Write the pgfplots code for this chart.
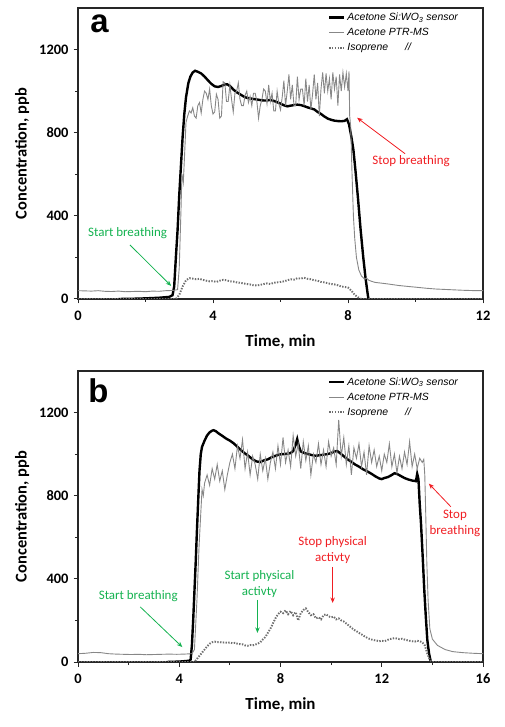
\documentclass[border=0pt]{standalone}
\usepackage{pgfplots}
\pgfplotsset{compat=1.18}
\usepackage{fontspec}
\setmainfont{Carlito}
\newfontfamily\arialfont{Liberation Sans}
\usetikzlibrary{arrows.meta}
\definecolor{agreen}{RGB}{20,178,80}
\definecolor{ared}{RGB}{240,30,35}
\definecolor{ptr}{RGB}{135,135,135}
\definecolor{iso}{RGB}{110,110,110}
\tikzset{
  annot/.style={font=\fontsize{13}{16}\selectfont, align=center},
  arr/.style={-{Stealth[length=5.5bp,width=4.5bp]}, line width=0.8bp},
}
\pgfplotsset{
  myaxis/.style={
    scale only axis, width=405bp, height=291bp,
    ymin=0, ymax=1400, ytick={0,400,800,1200},
    minor y tick num=1, minor x tick num=1,
    tick align=outside, xtick pos=left, ytick pos=left,
    major tick length=4.5bp, minor tick length=3bp,
    axis line style={line width=1.2bp, black!85},
    every tick/.style={line width=1bp, black!85},
    /pgf/number format/assume math mode=true,
    /pgf/number format/1000 sep={},
    ticklabel style={font=\bfseries\fontsize{14.5}{15}\selectfont},
    xticklabel style={yshift=-4bp},
    yticklabel style={xshift=-1.5bp},
    xlabel={Time, min}, ylabel={Concentration, ppb},
    xlabel style={font=\bfseries\fontsize{17}{18}\selectfont, at={(axis description cs:0.5,-0.148)}, anchor=center},
    ylabel style={font=\bfseries\fontsize{16.5}{18}\selectfont, at={(axis description cs:-0.138,0.5)}, anchor=center, rotate=0},
    legend style={draw=none, fill=none, inner sep=0pt, row sep=2.2bp,
      font=\arialfont\itshape\fontsize{10.5}{12}\selectfont,
      at={(axis description cs:0.617,0.99)}, anchor=north west},
    legend cell align=left,
    legend image code/.code={\draw[#1] (0bp,0bp) -- (15bp,0bp);},
    clip=true,
  },
  sensor/.style={black, line width=2.4bp},
  ptrms/.style={ptr, line width=0.9bp},
  isop/.style={iso, line width=1.9bp, dash pattern=on 1.4bp off 1.4bp},
}
\begin{document}
\begin{tikzpicture}
\path[use as bounding box] (0,0) rectangle (505bp,727bp);
% ---------------- panel a ----------------
\begin{axis}[myaxis, at={(78bp,428bp)}, anchor=south west,
  xmin=0, xmax=12, xtick={0,4,8,12}]
\addplot[sensor] coordinates {
(1.2,0) (1.6,1) (2.0,3) (2.4,6) (2.7,10) (2.8,18) (2.85,60) (2.9,200) (2.95,330) (3.0,500) (3.05,640) (3.1,780) (3.15,890) (3.2,970) (3.27,1039) (3.33,1070) (3.4,1090) (3.47,1098) (3.55,1093) (3.65,1085) (3.75,1070) (3.85,1052) (3.95,1035) (4.05,1023) (4.15,1020) (4.25,1025) (4.35,1032) (4.42,1033) (4.5,1025) (4.6,1008) (4.7,995) (4.8,985) (4.9,975) (5.0,968) (5.1,965) (5.2,962) (5.3,960) (5.4,957) (5.5,955) (5.6,955) (5.7,958) (5.8,953) (5.9,947) (6.0,940) (6.1,932) (6.2,927) (6.3,930) (6.4,933) (6.5,935) (6.6,933) (6.7,928) (6.8,922) (6.9,917) (7.0,912) (7.1,900) (7.2,890) (7.3,878) (7.4,868) (7.5,862) (7.6,858) (7.7,856) (7.8,855) (7.9,857) (7.97,865) (8.03,840) (8.1,780) (8.16,718) (8.22,620) (8.3,477) (8.37,340) (8.45,204) (8.52,100) (8.57,40) (8.6,5) (8.62,0)
};
\addlegendentry{Acetone Si:WO\textsubscript{3} sensor}
\addplot[ptrms] coordinates {
(0,40) (0.2,39) (0.4,38) (0.6,40) (0.8,37) (1.0,36) (1.2,38) (1.4,35) (1.6,36) (1.8,37) (2.0,35) (2.2,38) (2.4,37) (2.6,40) (2.8,41) (2.95,45) (3.0,150) (3.05,420) (3.08,600) (3.12,560) (3.16,700)
(3.20,850) (3.25,880) (3.30,905) (3.35,895) (3.40,920) (3.45,880) (3.50,870) (3.55,930) (3.60,945) (3.65,895) (3.70,960) (3.75,1000) (3.80,990) (3.85,960) (3.90,1010) (3.95,930) (4.00,890) (4.05,900) (4.10,985) (4.15,960) (4.20,870) (4.25,880) (4.30,1045) (4.35,1040) (4.40,950) (4.45,950) (4.50,1030) (4.55,960) (4.60,900) (4.65,990) (4.70,1000) (4.75,1040) (4.80,960) (4.85,930) (4.90,930) (4.95,980) (5.00,1000) (5.05,945) (5.10,975) (5.15,930) (5.20,990) (5.25,990) (5.30,950) (5.35,870) (5.40,930) (5.45,960) (5.50,1010) (5.55,1000) (5.60,940) (5.65,1030) (5.70,950) (5.75,990) (5.80,905) (5.85,905) (5.90,1000) (5.95,940) (6.00,910) (6.05,970) (6.10,1050) (6.15,930) (6.20,1000) (6.25,1080) (6.30,960) (6.35,1030) (6.40,930) (6.45,930) (6.50,1070) (6.55,960) (6.60,1010) (6.65,1010) (6.70,930) (6.75,1060) (6.80,950) (6.85,1030) (6.90,910) (6.95,985) (7.00,1080) (7.05,960) (7.10,1040) (7.15,880) (7.20,1010) (7.25,1090) (7.30,990) (7.35,1085) (7.40,1000) (7.45,1060) (7.50,960) (7.55,1090) (7.60,1010) (7.65,1070) (7.70,930) (7.75,1080) (7.80,1000) (7.85,1090) (7.90,1020) (7.95,1085) (8.00,1000) (8.03,1095) (8.05,880) (8.08,830) (8.12,600) (8.16,400) (8.20,290) (8.25,200) (8.32,140) (8.40,110) (8.50,95) (8.55,100) (8.62,90) (8.7,85) (8.8,80) (9.0,76) (9.2,72) (9.5,65) (9.8,60) (10.0,57) (10.3,52) (10.6,48) (11.0,45) (11.4,42) (11.8,40) (12.0,40)
};
\addlegendentry{Acetone PTR-MS}
\addplot[isop] coordinates {
(0,0) (2.9,0) (3.0,20) (3.1,60) (3.2,90) (3.3,100) (3.4,98) (3.5,95) (3.6,97) (3.7,92) (3.8,88) (3.9,85) (4.0,86) (4.1,82) (4.2,88) (4.3,92) (4.4,90) (4.5,85) (4.6,84) (4.7,80) (4.8,78) (4.9,75) (5.0,72) (5.1,70) (5.2,66) (5.3,65) (5.4,68) (5.5,72) (5.6,75) (5.7,72) (5.8,78) (5.9,80) (6.0,82) (6.1,85) (6.2,90) (6.3,95) (6.4,93) (6.5,100) (6.6,98) (6.7,102) (6.8,97) (6.9,95) (7.0,90) (7.1,88) (7.2,82) (7.3,80) (7.4,76) (7.5,72) (7.6,70) (7.7,66) (7.8,60) (7.9,58) (8.0,55) (8.1,40) (8.2,20) (8.3,8) (8.4,0) (12,0)
};
\addlegendentry{Isoprene\hspace{17bp}//}
\node[anchor=base west, font=\arialfont\bfseries\fontsize{33}{33}\selectfont, inner sep=0pt] at (axis description cs:0.03,0.916) {a};
\node[annot, text=agreen] at (axis cs:1.47,318) {Start breathing};
\draw[arr, agreen] (axis cs:1.54,260) -- (axis cs:2.76,63);
\node[annot, text=ared] at (axis cs:9.87,665) {Stop breathing};
\draw[arr, ared] (axis cs:9.69,699) -- (axis cs:8.27,872);
\end{axis}
% ---------------- panel b ----------------
\begin{axis}[myaxis, at={(78bp,65bp)}, anchor=south west,
  xmin=0, xmax=16, xtick={0,4,8,12,16},
  legend style={at={(axis description cs:0.617,0.985)}}]
\addplot[sensor] coordinates {
(3.5,0) (4.0,2) (4.4,6) (4.45,12) (4.5,80) (4.55,200) (4.6,340) (4.65,480) (4.7,636) (4.75,780) (4.8,920) (4.85,1000) (4.9,1035) (5.0,1065) (5.1,1090) (5.2,1105) (5.3,1113) (5.36,1115) (5.45,1110) (5.55,1100) (5.7,1088) (5.85,1075) (6.0,1065) (6.15,1052) (6.3,1035) (6.45,1018) (6.6,1003) (6.75,990) (6.9,975) (7.05,965) (7.2,962) (7.35,970) (7.5,975) (7.65,985) (7.8,992) (7.95,998) (8.1,1000) (8.25,1002) (8.4,1005) (8.5,1015) (8.6,1045) (8.66,1072) (8.72,1040) (8.8,1013) (8.95,1005) (9.1,1000) (9.25,995) (9.4,992) (9.55,995) (9.7,997) (9.85,1000) (10.0,1005) (10.12,1012) (10.24,1015) (10.35,1005) (10.5,990) (10.65,975) (10.8,963) (10.95,950) (11.1,940) (11.25,928) (11.43,917) (11.6,905) (11.75,893) (11.9,883) (12.0,880) (12.1,885) (12.25,890) (12.4,900) (12.5,908) (12.6,905) (12.75,895) (12.9,885) (13.05,878) (13.2,873) (13.35,870) (13.4,905) (13.45,880) (13.5,760) (13.55,668) (13.62,500) (13.68,347) (13.74,220) (13.8,106) (13.87,40) (13.94,0)
};
\addlegendentry{Acetone Si:WO\textsubscript{3} sensor}
\addplot[ptrms] coordinates {
(0,40) (0.3,42) (0.6,46) (0.9,45) (1.2,40) (1.5,38) (1.8,37) (2.1,36) (2.4,37) (2.7,35) (3.0,36) (3.3,37) (3.6,38) (3.9,37) (4.2,38) (4.5,40) (4.6,60) (4.7,300) (4.78,550) (4.83,668) (4.9,830) (4.95,800)
(5.0,860) (5.1,900) (5.2,850) (5.3,930) (5.4,880) (5.5,950) (5.6,870) (5.7,920) (5.8,830) (5.9,900) (6.0,960) (6.1,1000) (6.2,930) (6.3,1040) (6.4,980) (6.5,1070) (6.6,930) (6.7,1010) (6.8,900) (6.9,990) (7.0,950) (7.1,880) (7.2,1000) (7.3,920) (7.4,980) (7.5,880) (7.6,960) (7.7,1010) (7.8,930) (7.9,1040) (8.0,950) (8.1,1080) (8.2,960) (8.3,1020) (8.4,940) (8.5,1090) (8.6,990) (8.7,1050) (8.8,930) (8.9,1060) (9.0,970) (9.1,1040) (9.2,900) (9.3,1000) (9.4,960) (9.5,1050) (9.6,950) (9.7,1020) (9.8,940) (9.9,1060) (10.0,990) (10.1,1030) (10.2,950) (10.3,1165) (10.4,990) (10.5,1080) (10.6,950) (10.7,1040) (10.8,900) (10.9,1030) (11.0,980) (11.1,1050) (11.2,940) (11.3,1010) (11.4,900) (11.5,1040) (11.6,960) (11.7,1020) (11.8,940) (11.9,990) (12.0,920) (12.1,1000) (12.2,960) (12.3,1050) (12.4,940) (12.5,1000) (12.6,910) (12.7,990) (12.8,930) (12.9,1010) (13.0,950) (13.1,1060) (13.2,940) (13.3,1000) (13.4,930) (13.5,980) (13.6,960) (13.66,975) (13.7,900) (13.74,700) (13.78,480) (13.83,300) (13.9,160) (14.0,110) (14.2,80) (14.5,60) (14.8,50) (15.2,45) (15.6,42) (16.0,40)
};
\addlegendentry{Acetone PTR-MS}
\addplot[isop] coordinates {
(0,0) (4.6,0) (4.7,15) (4.8,30) (4.9,45) (5.0,60) (5.1,75) (5.2,88) (5.3,95) (5.4,98) (5.5,95) (5.6,96) (5.7,93) (5.8,95) (5.9,92) (6.0,94) (6.1,90) (6.2,92) (6.3,88) (6.4,86) (6.5,85) (6.6,80) (6.7,78) (6.8,82) (6.9,80) (7.0,84) (7.1,88) (7.2,95) (7.3,108) (7.4,120) (7.5,140) (7.6,160) (7.7,185) (7.8,210) (7.9,230) (8.0,242) (8.1,235) (8.2,248) (8.3,230) (8.4,245) (8.5,225) (8.6,240) (8.7,200) (8.8,235) (8.9,250) (9.0,258) (9.1,240) (9.2,225) (9.3,230) (9.4,210) (9.5,215) (9.6,205) (9.7,225) (9.8,230) (9.9,220) (10.0,215) (10.1,218) (10.2,205) (10.3,210) (10.4,200) (10.5,195) (10.6,185) (10.7,175) (10.8,165) (10.9,155) (11.0,148) (11.1,140) (11.2,133) (11.3,125) (11.4,118) (11.5,112) (11.6,108) (11.7,105) (11.8,103) (11.9,100) (12.0,102) (12.1,100) (12.2,104) (12.3,110) (12.4,112) (12.5,115) (12.6,113) (12.7,110) (12.8,112) (12.9,108) (13.0,105) (13.1,102) (13.2,100) (13.3,98) (13.4,102) (13.5,100) (13.6,95) (13.7,80) (13.8,40) (13.9,10) (14.0,0) (16,0)
};
\addlegendentry{Isoprene\hspace{17bp}//}
\node[anchor=base west, font=\arialfont\bfseries\fontsize{33}{33}\selectfont, inner sep=0pt] at (axis description cs:0.025,0.891) {b};
\node[annot, text=agreen] at (axis cs:2.38,318) {Start breathing};
\draw[arr, agreen] (axis cs:2.46,265) -- (axis cs:4.12,72);
\node[annot, text=agreen] at (axis cs:7.17,376) {Start physical\\activty};
\draw[arr, agreen] (axis cs:7.09,299) -- (axis cs:7.09,140);
\node[annot, text=ared] at (axis cs:10.06,540) {Stop physical\\activty};
\draw[arr, ared] (axis cs:10.06,458) -- (axis cs:10.06,284);
\node[annot, text=ared] at (axis cs:14.89,667) {Stop\\breathing};
\draw[arr, ared] (axis cs:14.73,747) -- (axis cs:13.86,858);
\end{axis}
\end{tikzpicture}
\end{document}
